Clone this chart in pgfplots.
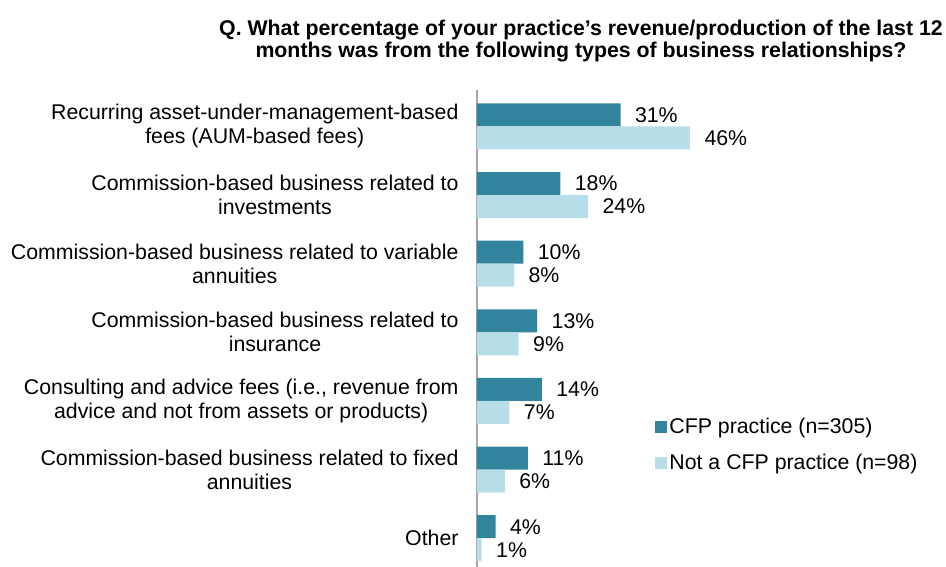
\documentclass[border=0pt]{standalone}
\usepackage{pgfplots}
\pgfplotsset{compat=1.18}
\usepackage{fontspec}
\setmainfont{Liberation Sans}
\definecolor{cfpdark}{HTML}{31849B}
\definecolor{cfplight}{HTML}{B7DEE8}
\definecolor{axgray}{HTML}{A6A6A6}
\begin{document}
\begin{tikzpicture}[x=1pt,y=1pt]
\useasboundingbox (0,0) rectangle (946,567);
\node[align=center,font=\fontsize{21.3}{22}\selectfont\bfseries] at (581,526)
 {Q. What percentage of your practice’s revenue/production of the last 12\\months was from the following types of business relationships?};
\begin{axis}[
  at={(477pt,0pt)}, anchor=south west,
  scale only axis, width=463pt, height=477pt,
  xmin=0, xmax=100,
  ymin=-0.53, ymax=6.42, y dir=reverse,
  axis x line=none,
  axis y line*=left,
  y axis line style={draw=axgray, line width=1.6pt, -},
  xbar, bar width=23pt,
  ytick={0,1,2,3,4,5,6},
  yticklabels={{Recurring asset-under-management-based\\fees (AUM-based fees)},
    {Commission-based business related to\\investments},
    {Commission-based business related to variable\\annuities},
    {Commission-based business related to\\insurance},
    {Consulting and advice fees (i.e., revenue from\\advice and not from assets or products)},
    {Commission-based business related to fixed\\annuities},
    {Other}},
  yticklabel style={align=center, font=\fontsize{21.3}{24}\selectfont, xshift=-15pt},
  major tick length=0pt,
  ytick style={draw=none},
  nodes near coords={\pgfmathprintnumber{\pgfplotspointmeta}\%},
  /pgf/number format/assume math mode=true,
  every node near coord/.append style={font=\fontsize{21.3}{24}\selectfont, anchor=west, xshift=11pt, text=black},
  legend style={at={(rel axis cs:0.385,0.316)}, anchor=north west, draw=none, fill=none,
    font=\fontsize{21.3}{24}\selectfont, row sep=15pt, inner sep=0pt,
    /tikz/every even column/.append style={column sep=4pt}},
  legend cell align=left,
  legend image code/.code={\fill[#1] (0pt,-6pt) rectangle (12pt,6pt);},
]
\addplot[fill=cfpdark, draw=none, bar shift=11.5pt] coordinates {(31,0) (18,1) (10,2) (13,3) (14,4) (11,5) (4,6)};
\addplot[fill=cfplight, draw=none, bar shift=-11.5pt] coordinates {(46,0) (24,1) (8,2) (9,3) (7,4) (6,5) (1,6)};
\legend{CFP practice (n=305), Not a CFP practice (n=98)}
\end{axis}
\end{tikzpicture}
\end{document}
